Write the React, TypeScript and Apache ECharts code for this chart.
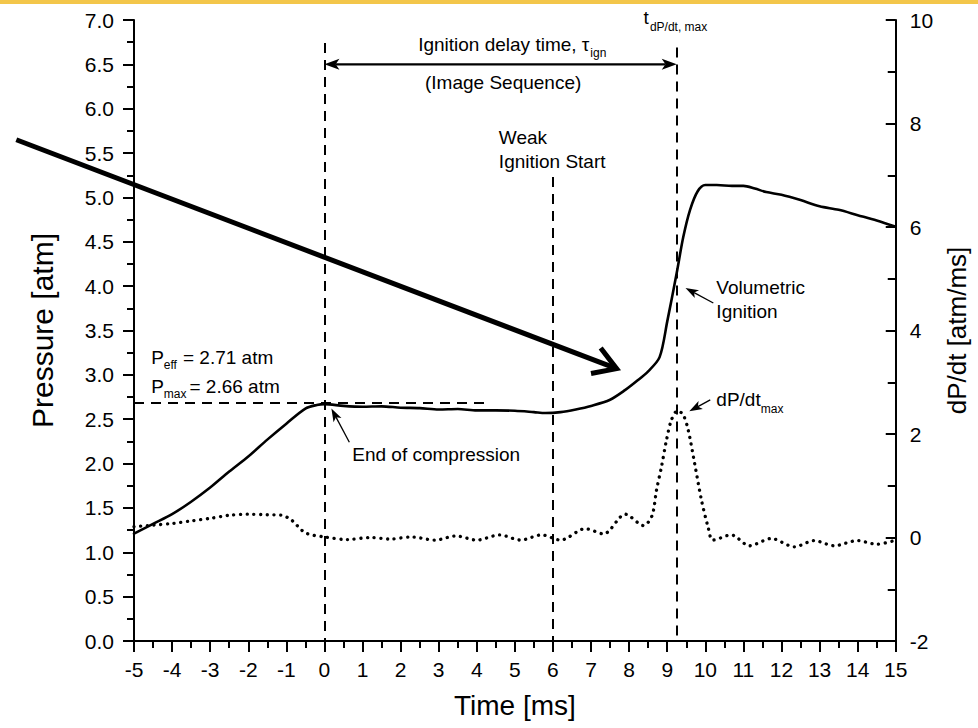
import React, { useEffect, useRef } from 'react';
import * as echarts from 'echarts';

// ---- data ----
const TIME_P = [-5, -4.5, -4, -3.5, -3, -2.5, -2, -1.5, -1, -0.5, -0.2, 0, 0.5, 1, 1.5, 2, 2.5, 3, 3.5, 4, 4.5, 5, 5.5, 5.8, 6.2, 6.6, 7, 7.5, 7.9, 8.2, 8.5, 8.8, 9.0, 9.25, 9.42, 9.6, 9.8, 10.0, 10.3, 10.7, 11.0, 11.3, 11.6, 12.0, 12.5, 13.0, 13.5, 14.0, 14.5, 15.0];
const PRESSURE = [1.21, 1.32, 1.43, 1.57, 1.73, 1.91, 2.08, 2.27, 2.45, 2.62, 2.66, 2.67, 2.65, 2.64, 2.645, 2.63, 2.625, 2.61, 2.615, 2.60, 2.60, 2.595, 2.58, 2.57, 2.58, 2.61, 2.65, 2.72, 2.83, 2.93, 3.04, 3.2, 3.6, 4.15, 4.55, 4.86, 5.07, 5.14, 5.14, 5.13, 5.13, 5.10, 5.06, 5.03, 4.97, 4.90, 4.86, 4.80, 4.74, 4.67];

const TIME_D = [-5, -4.5, -4, -3.5, -3, -2.5, -2, -1.5, -1.13, -0.87, -0.5, 0, 0.6, 1.2, 1.7, 2.3, 2.9, 3.45, 4.0, 4.6, 5.15, 5.7, 6.2, 6.85, 7.33, 7.9, 8.38, 8.6, 8.72, 8.85, 8.98, 9.11, 9.27, 9.42, 9.55, 9.72, 9.9, 10.07, 10.2, 10.68, 11.16, 11.73, 12.34, 12.86, 13.38, 13.99, 14.51, 15];
const DPDT = [0.21, 0.24, 0.27, 0.32, 0.37, 0.43, 0.45, 0.44, 0.43, 0.34, 0.09, 0.01, -0.04, 0.0, -0.03, 0.01, -0.05, 0.03, -0.05, 0.05, -0.05, 0.05, -0.05, 0.17, 0.07, 0.45, 0.23, 0.42, 0.92, 1.37, 1.88, 2.27, 2.45, 2.37, 2.08, 1.43, 0.72, 0.21, -0.05, 0.05, -0.16, -0.02, -0.18, -0.06, -0.16, -0.06, -0.13, -0.05];

// marker times / levels (ms, atm)
const T_EOC = 0;
const T_WEAK = 6;
const T_DPMAX = 9.25;
const P_EFF_LINE = 2.685;
const P_EFF_LINE_END = 4.24;
const DELAY_ARROW_LEVEL = 6.5;

const FONT = '"Liberation Sans", Arial, Helvetica, sans-serif';
const ANN = 19;
const SUB = 12;

export default function App() {
  const ref = useRef<HTMLDivElement>(null);

  useEffect(() => {
    if (!ref.current) return;
    const chart = echarts.init(ref.current, undefined, { renderer: 'svg' });

    const dashed = { color: '#000', width: 2, type: [10, 7] };
    const axisCommon = {
      axisLine: { show: true, onZero: false, lineStyle: { color: '#000', width: 2 } },
      axisTick: { show: true, length: 11, lineStyle: { color: '#000', width: 2 } },
      minorTick: { show: true, splitNumber: 2, length: 7, lineStyle: { color: '#000', width: 2 } },
      splitLine: { show: false },
      minorSplitLine: { show: false },
    };

    const option: any = {
      animation: false,
      backgroundColor: '#ffffff',
      grid: { left: 134, right: 80, top: 20, bottom: 87, containLabel: false },
      xAxis: {
        type: 'value', min: -5, max: 15, interval: 1,
        name: 'Time [ms]', nameLocation: 'middle', nameGap: 50,
        nameTextStyle: { fontSize: 28, fontFamily: FONT, color: '#000' },
        ...axisCommon,
        axisLabel: { fontSize: 21, fontFamily: FONT, color: '#000', margin: 18 },
      },
      yAxis: [
        {
          type: 'value', position: 'left', min: 0, max: 7, interval: 0.5,
          name: 'Pressure [atm]', nameLocation: 'middle', nameGap: 77, nameRotate: 90,
          nameTextStyle: { fontSize: 30, fontFamily: FONT, color: '#000' },
          ...axisCommon,
          axisLabel: { fontSize: 21, fontFamily: FONT, color: '#000', margin: 20, formatter: (v: number) => v.toFixed(1) },
        },
        {
          type: 'value', position: 'right', min: -2, max: 10, interval: 2,
          name: 'dP/dt [atm/ms]', nameLocation: 'middle', nameGap: 46, nameRotate: 90,
          nameTextStyle: { fontSize: 26, fontFamily: FONT, color: '#000' },
          ...axisCommon,
          axisTick: { show: true, inside: true, length: 10, lineStyle: { color: '#000', width: 2 } },
          minorTick: { show: true, splitNumber: 2, length: 8, lineStyle: { color: '#000', width: 2 } },
          axisLabel: { fontSize: 21, fontFamily: FONT, color: '#000', margin: 14 },
        },
      ],
      series: [
        {
          name: 'Pressure', type: 'line', xAxisIndex: 0, yAxisIndex: 0,
          data: TIME_P.map((t, i) => [t, PRESSURE[i]]),
          showSymbol: false, symbol: 'none', smooth: 0.3,
          lineStyle: { color: '#000', width: 2.6, join: 'round', cap: 'round' }, z: 3, silent: true,
          markLine: {
            silent: true, symbol: ['none', 'none'], label: { show: false }, animation: false,
            lineStyle: dashed, emphasis: { disabled: true },
            data: [
              [{ coord: [T_EOC, 6.74] }, { coord: [T_EOC, 0] }],
              [{ coord: [T_WEAK, 5.23] }, { coord: [T_WEAK, 0] }],
              [{ coord: [T_DPMAX, 6.69] }, { coord: [T_DPMAX, 0] }],
              [{ coord: [-5, P_EFF_LINE] }, { coord: [P_EFF_LINE_END, P_EFF_LINE] }],
            ],
          },
        },
        {
          name: 'dP/dt', type: 'line', xAxisIndex: 0, yAxisIndex: 1,
          data: TIME_D.map((t, i) => [t, DPDT[i]]),
          showSymbol: false, symbol: 'none', smooth: 0.3, silent: true,
          lineStyle: { color: '#000', width: 3.3, type: [0.1, 6.6], cap: 'round' }, z: 2,
        },
      ],
    };
    chart.setOption(option);

    const px = (x: number, y: number, yi = 0): number[] =>
      chart.convertToPixel({ xAxisIndex: 0, yAxisIndex: yi } as any, [x, y]) as number[];

    const ctx = document.createElement('canvas').getContext('2d') as CanvasRenderingContext2D;
    const tw = (s: string, size: number) => { ctx.font = `${size}px ${FONT}`; return ctx.measureText(s).width; };

    const els: any[] = [];
    const text = (x: number, y: number, s: string, size: number, align = 'left') => {
      els.push({
        type: 'text', x, y, silent: true, z: 10,
        style: { text: s, fontSize: size, fontFamily: FONT, fill: '#000', textAlign: align, textVerticalAlign: 'middle' },
      });
    };
    const line = (a: number[], b: number[], w: number) => {
      els.push({ type: 'line', silent: true, z: 10, shape: { x1: a[0], y1: a[1], x2: b[0], y2: b[1] }, style: { stroke: '#000', lineWidth: w } });
    };
    const head = (from: number[], tip: number[], len: number, hw: number) => {
      const dx = tip[0] - from[0], dy = tip[1] - from[1];
      const L = Math.hypot(dx, dy); const ux = dx / L, uy = dy / L; const nx = -uy, ny = ux;
      const bx = tip[0] - ux * len, by = tip[1] - uy * len;
      const notch = [tip[0] - ux * len * 0.75, tip[1] - uy * len * 0.75];
      els.push({
        type: 'polygon', silent: true, z: 10,
        shape: { points: [tip, [bx + nx * hw, by + ny * hw], notch, [bx - nx * hw, by - ny * hw]] },
        style: { fill: '#000' },
      });
      return notch;
    };
    const arrow = (from: number[], tip: number[], w: number, len: number, hw: number) => {
      const n = head(from, tip, len, hw);
      line(from, n, w);
    };

    // yellow strip at top
    els.push({ type: 'rect', silent: true, z: 20, shape: { x: 0, y: 0, width: 978, height: 4 }, style: { fill: '#f3c64a' } });

    // Ignition delay double arrow
    const a0 = px(T_EOC, DELAY_ARROW_LEVEL), a1 = px(T_DPMAX, DELAY_ARROW_LEVEL);
    const n1 = head(a1, a0, 15, 5.5);
    const n2 = head(a0, a1, 15, 5.5);
    line(n1, n2, 2.2);

    // big thick arrow
    const bs = px(-8.09, 5.65), be = px(7.67, 3.07);
    line(bs, be, 5);
    {
      const dx = be[0] - bs[0], dy = be[1] - bs[1]; const ang = Math.atan2(dy, dx);
      const L = 26;
      const b1 = [be[0] + L * Math.cos(ang + Math.PI - 0.55), be[1] + L * Math.sin(ang + Math.PI - 0.55)];
      const b2 = [be[0] + L * Math.cos(ang + Math.PI + 0.55), be[1] + L * Math.sin(ang + Math.PI + 0.55)];
      els.push({ type: 'polyline', silent: true, z: 10, shape: { points: [b1, be, b2] }, style: { stroke: '#000', lineWidth: 5, fill: null, lineJoin: 'miter' } });
    }

    // small annotation arrows
    arrow(px(0.654, 2.24), px(0.183, 2.62), 1.3, 13, 4.5);
    arrow(px(10.21, 3.81), px(9.48, 3.98), 1.3, 13, 4.5);
    arrow(px(10.13, 2.66, 1), px(9.58, 2.44, 1), 1.3, 13, 4.5);

    // texts
    const ig = px(2.46, 6.72);
    const s1 = 'Ignition delay time, τ';
    text(ig[0], ig[1], s1, ANN);
    text(ig[0] + tw(s1, ANN) + 1, ig[1] + 8, 'ign', SUB);
    const im = px(2.64, 6.30);
    text(im[0], im[1], '(Image Sequence)', ANN);

    const tt = px(8.38, 7.03);
    text(tt[0], tt[1], 't', ANN);
    text(tt[0] + tw('t', ANN) + 1, tt[1] + 10, 'dP/dt, max', SUB);

    const wk = px(4.58, 5.67);
    text(wk[0], wk[1], 'Weak', ANN);
    const ws = px(4.58, 5.40);
    text(ws[0], ws[1], 'Ignition Start', ANN);

    const vo = px(10.29, 3.98);
    text(vo[0], vo[1], 'Volumetric', ANN);
    const vi = px(10.29, 3.71);
    text(vi[0], vi[1], 'Ignition', ANN);

    const dp = px(10.29, 2.66, 1);
    text(dp[0], dp[1], 'dP/dt', ANN);
    text(dp[0] + tw('dP/dt', ANN), dp[1] + 9, 'max', SUB);

    const eo = px(0.73, 2.10);
    text(eo[0], eo[1], 'End of compression', ANN);

    const pe = px(-4.55, 3.20);
    text(pe[0], pe[1], 'P', ANN);
    text(pe[0] + tw('P', ANN), pe[1] + 8, 'eff', SUB);
    text(pe[0] + tw('P', ANN) + tw('eff', SUB) + 6, pe[1], '= 2.71 atm', ANN);
    const pm = px(-4.55, 2.874);
    text(pm[0], pm[1], 'P', ANN);
    text(pm[0] + tw('P', ANN), pm[1] + 8, 'max', SUB);
    text(pm[0] + tw('P', ANN) + tw('max', SUB) + 3, pm[1], '= 2.66 atm', ANN);

    chart.setOption({ graphic: { elements: els } });

    return () => { chart.dispose(); };
  }, []);

  return (
    <div
      ref={ref}
      style={{ position: 'fixed', left: 0, top: 0, width: 978, height: 728, background: '#fff' }}
    />
  );
}
